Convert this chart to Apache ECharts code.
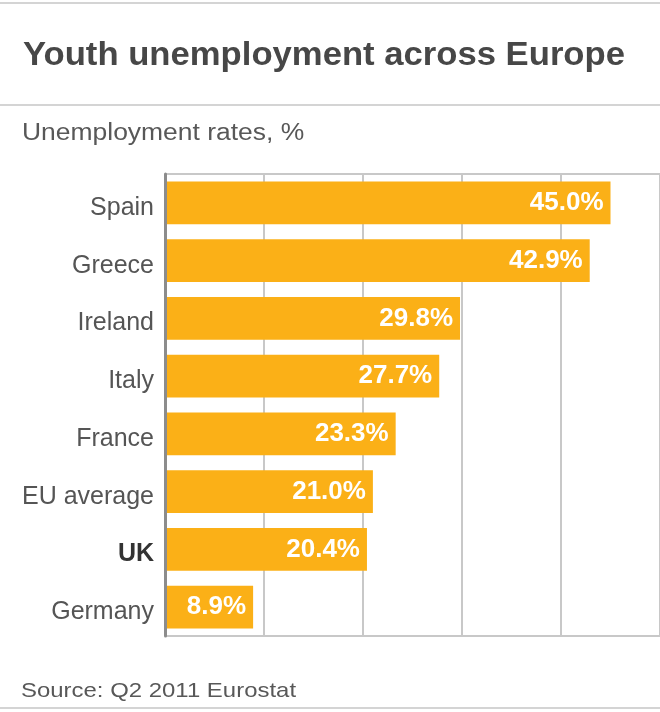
<!DOCTYPE html>
<html>
<head>
<meta charset="utf-8">
<script src="https://cdn.jsdelivr.net/npm/echarts@6/dist/echarts.min.js"></script>
<style>
  html, body { margin: 0; padding: 0; background: #fff; }
  #chart { width: 660px; height: 712px; }
</style>
</head>
<body>
<div id="chart"></div>
<script>
  // data
  var countries = ['Spain', 'Greece', 'Ireland', 'Italy', 'France', 'EU average', 'UK', 'Germany'];
  var rates = [45.0, 42.9, 29.8, 27.7, 23.3, 21.0, 20.4, 8.9];
  var highlight = 'UK';
  var titleText = 'Youth unemployment across Europe';
  var subText = 'Unemployment rates, %';
  var sourceText = 'Source: Q2 2011 Eurostat';

  var font = '"Liberation Sans", Arial, Helvetica, sans-serif';
  var rule = '#d4d4d4';
  var chart = echarts.init(document.getElementById('chart'));

  // the reference type is a little wide, so the header texts get a stretch
  function label(txt, x, y, size, weight, color, sx) {
    return {
      type: 'text', x: x, y: y, scaleX: sx, silent: true,
      style: {
        text: txt, fill: color, fontSize: size, fontWeight: weight,
        fontFamily: font, verticalAlign: 'middle', align: 'left'
      }
    };
  }

  chart.setOption({
    animation: false,
    backgroundColor: '#fff',
    textStyle: { fontFamily: font },
    graphic: [
      { type: 'rect', shape: { x: 0, y: 2, width: 660, height: 2 }, style: { fill: rule } },
      { type: 'rect', shape: { x: 0, y: 104, width: 660, height: 2 }, style: { fill: rule } },
      { type: 'rect', shape: { x: 0, y: 707, width: 660, height: 2 }, style: { fill: rule } },
      // plot frame rules, top and bottom, out to the right edge
      { type: 'rect', shape: { x: 165, y: 173, width: 495, height: 2 }, style: { fill: '#c8c8c8' } },
      { type: 'rect', shape: { x: 165, y: 635, width: 495, height: 2 }, style: { fill: '#c8c8c8' } },
      label(titleText, 23, 56, 33, 'bold', '#474747', 1.05),
      label(subText, 22, 134, 23, 'normal', '#585858', 1.15),
      label(sourceText, 21, 691, 21, 'normal', '#585858', 1.14)
    ],
    grid: { left: 165, right: 0, top: 174, bottom: 76, containLabel: false },
    xAxis: {
      type: 'value', min: 0, max: 50, interval: 10,
      axisLabel: { show: false },
      axisLine: { show: false },
      axisTick: { show: false },
      splitLine: { show: true, lineStyle: { color: '#c8c8c8', width: 2 } }
    },
    yAxis: {
      type: 'category',
      data: countries,
      inverse: true,
      z: 5,
      axisTick: { show: false },
      axisLine: { show: true, lineStyle: { color: '#8c8c8c', width: 3 } },
      splitLine: { show: false },
      axisLabel: {
        margin: 11,
        padding: [10, 0, 0, 0],
        fontSize: 25,
        color: '#555',
        fontFamily: font,
        formatter: function (v) { return v === highlight ? '{b|' + v + '}' : v; },
        rich: { b: { fontWeight: 'bold', fontSize: 25, color: '#333', fontFamily: font } }
      }
    },
    series: [
      {
        type: 'bar',
        data: rates,
        barWidth: '74%',
        itemStyle: { color: '#fbb017' },
        label: {
          show: true,
          position: 'insideRight',
          distance: 7,
          color: '#fff',
          fontSize: 26,
          fontWeight: 'bold',
          fontFamily: font,
          formatter: function (p) { return p.value.toFixed(1) + '%'; }
        }
      }
    ]
  });
</script>
</body>
</html>
